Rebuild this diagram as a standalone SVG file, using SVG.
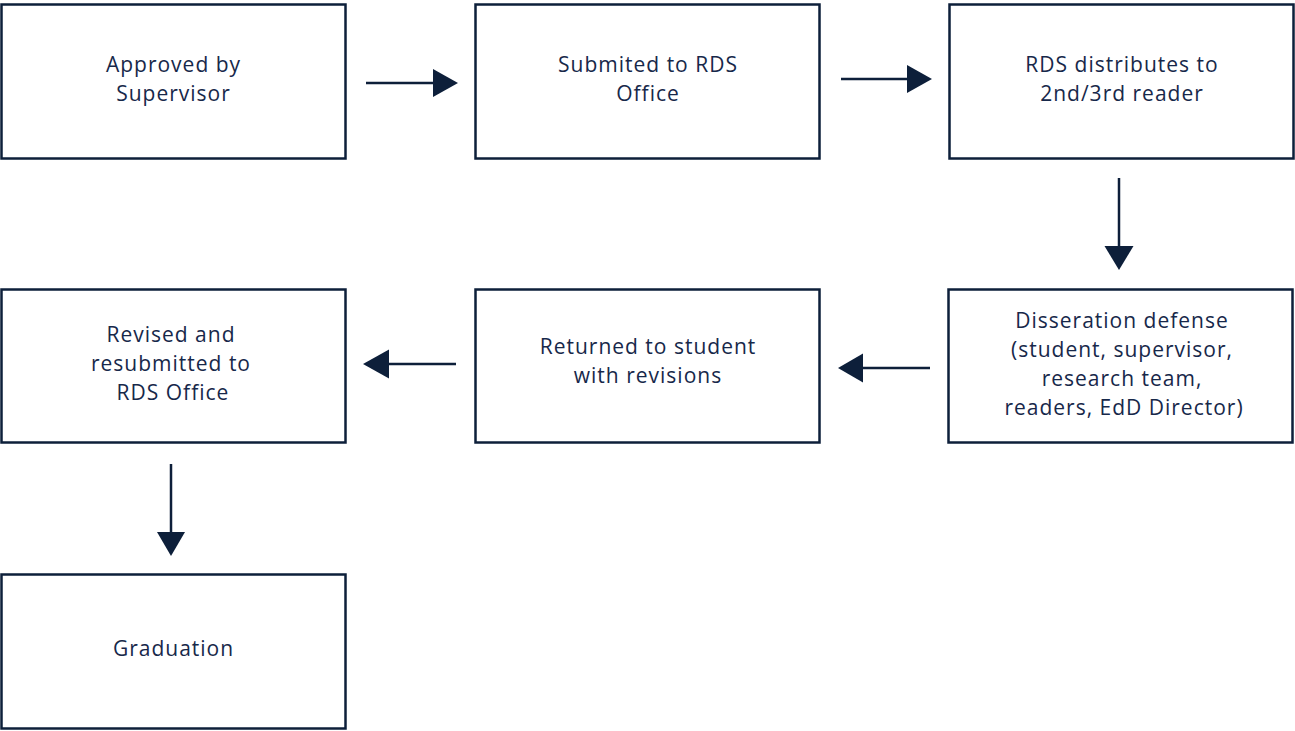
<svg xmlns="http://www.w3.org/2000/svg" width="1295" height="731" viewBox="0 0 1295 731">
<style>
.box{fill:#ffffff;stroke:#0d1f3a;stroke-width:2.5}
.lbl{font-family:"Open Sans","Liberation Sans",sans-serif;font-size:21px;fill:#17284a;text-anchor:middle;letter-spacing:1px}
.con{stroke:#0d1f3a;stroke-width:2.5;fill:none}
.head{fill:#0d1f3a}
</style>
<rect width="1295" height="731" fill="#ffffff"/>
<g id="n1"><rect class="box" x="1.5" y="4.5" width="344" height="154"/><text class="lbl" x="173.5" y="72">Approved by</text><text class="lbl" x="173.5" y="101">Supervisor</text></g>
<g id="n2"><rect class="box" x="475.5" y="4.5" width="344" height="154"/><text class="lbl" x="648" y="72">Submited to RDS</text><text class="lbl" x="648" y="101">Office</text></g>
<g id="n3"><rect class="box" x="949.5" y="4.5" width="344" height="154"/><text class="lbl" x="1122" y="72">RDS distributes to</text><text class="lbl" x="1122" y="101">2nd/3rd reader</text></g>
<g id="n4"><rect class="box" x="948.5" y="289.5" width="344" height="153"/><text class="lbl" x="1122" y="328">Disseration defense</text><text class="lbl" x="1122" y="357">(student, supervisor,</text><text class="lbl" x="1122" y="386">research team,</text><text class="lbl" x="1124" y="415">readers, EdD Director)</text></g>
<g id="n5"><rect class="box" x="475.5" y="289.5" width="344" height="153"/><text class="lbl" x="648" y="354">Returned to student</text><text class="lbl" x="648" y="383">with revisions</text></g>
<g id="n6"><rect class="box" x="1.5" y="289.5" width="344" height="153"/><text class="lbl" x="171" y="342">Revised and</text><text class="lbl" x="171" y="371">resubmitted to</text><text class="lbl" x="173" y="400">RDS Office</text></g>
<g id="n7"><rect class="box" x="1.5" y="574.5" width="344" height="154"/><text class="lbl" x="173.5" y="656">Graduation</text></g>
<g id="connectors">
<line class="con" x1="366" y1="83" x2="436" y2="83"/><polygon class="head" points="433,69 458,83 433,97"/>
<line class="con" x1="841" y1="79" x2="910" y2="79"/><polygon class="head" points="907,65 932,79 907,93"/>
<line class="con" x1="1119" y1="178" x2="1119" y2="249"/><polygon class="head" points="1104.5,246 1133.5,246 1119,270"/>
<line class="con" x1="930" y1="368" x2="860" y2="368"/><polygon class="head" points="863,353.5 838,368 863,382.5"/>
<line class="con" x1="456" y1="364" x2="386" y2="364"/><polygon class="head" points="389,349.5 363,364 389,378.5"/>
<line class="con" x1="171" y1="464" x2="171" y2="535"/><polygon class="head" points="157,532 185,532 171,556"/>
</g>
</svg>
